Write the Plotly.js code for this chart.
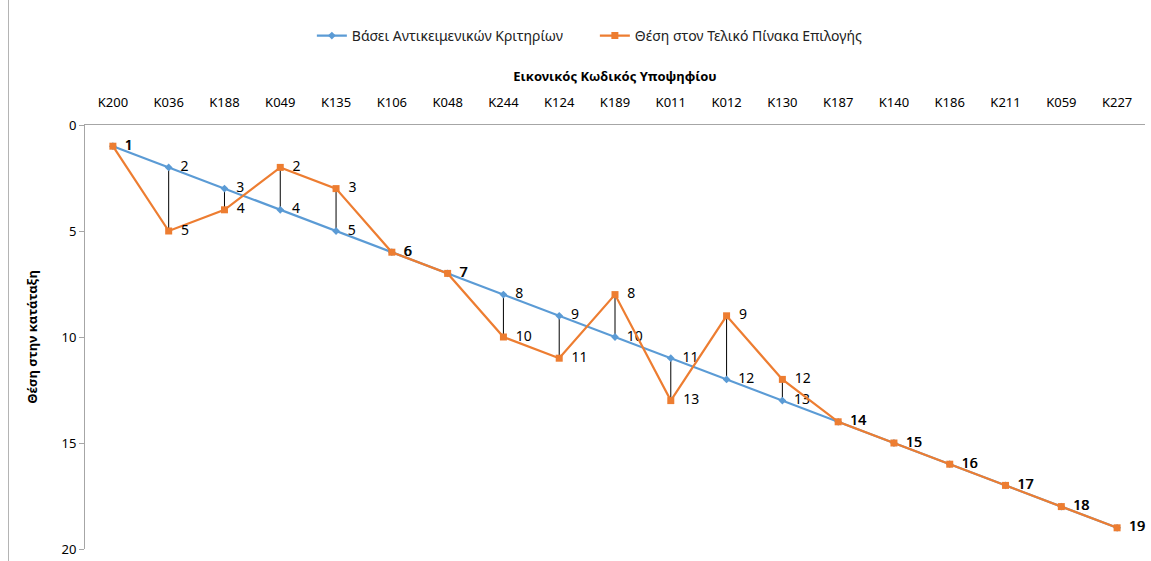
<!DOCTYPE html>
<html>
<head>
<meta charset="utf-8">
<script src="https://cdn.plot.ly/plotly-3.0.1.min.js"></script>
<style>
html,body{margin:0;padding:0;background:#fff;}
#wrap{position:relative;width:1151px;height:561px;}
#chart{width:1151px;height:561px;}
#frame{position:absolute;left:8px;top:0;width:1px;height:561px;background:#b4b4b4;z-index:5;pointer-events:none;}
</style>
</head>
<body>
<div id="wrap"><div id="chart"></div><div id="frame"></div></div>
<script>
const categories = ["K200","K036","K188","K049","K135","K106","K048","K244","K124","K189","K011","K012","K130","K187","K140","K186","K211","K059","K227"];
const objectiveRank = [1,2,3,4,5,6,7,8,9,10,11,12,13,14,15,16,17,18,19];
const finalRank = [1,5,4,2,3,6,7,10,11,8,13,9,12,14,15,16,17,18,19];
const seriesNames = ["Βάσει Αντικειμενικών Κριτηρίων", "Θέση στον Τελικό Πίνακα Επιλογής"];
const yTicks = [0,5,10,15,20];

// high-low connector segments built from the two series
const hlX = [], hlY = [];
categories.forEach((c, i) => {
  if (objectiveRank[i] !== finalRank[i]) {
    hlX.push(c, c, null);
    hlY.push(objectiveRank[i], finalRank[i], null);
  }
});

const font = "Noto Sans, Open Sans, sans-serif";
const labelTpl = "\u2002%{text}";
const traces = [
  {x: hlX, y: hlY, mode: "lines", line: {color: "#000", width: 1}, showlegend: false, hoverinfo: "skip"},
  {x: categories, y: objectiveRank, name: seriesNames[0], mode: "lines+markers+text", cliponaxis: false,
   line: {color: "#5B9BD5", width: 2.25}, marker: {symbol: "diamond", size: 6, color: "#5B9BD5"},
   text: objectiveRank.map(String), texttemplate: labelTpl, textposition: "middle right",
   textfont: {family: font, size: 14, color: "#000"}},
  {x: categories, y: finalRank, name: seriesNames[1], mode: "lines+markers+text", cliponaxis: false,
   line: {color: "#ED7D31", width: 2.25}, marker: {symbol: "square", size: 7, color: "#ED7D31"},
   text: finalRank.map(String), texttemplate: labelTpl, textposition: "middle right",
   textfont: {family: font, size: 14, color: "#000"}}
];

const layout = {
  width: 1151, height: 561,
  margin: {l: 85, r: 6, t: 125, b: 12},
  paper_bgcolor: "#fff", plot_bgcolor: "#fff",
  font: {family: font, size: 13, color: "#000"},
  showlegend: true,
  legend: {orientation: "h", x: 0.481, xanchor: "center", y: 1.21, yanchor: "middle",
           yref: "paper", font: {family: font, size: 14, color: "#222"}, traceorder: "normal",
           entrywidth: 238, entrywidthmode: "pixels"},
  xaxis: {type: "category", categoryorder: "array", categoryarray: categories,
          side: "top", range: [-0.5, 18.5], showgrid: false, zeroline: false,
          showline: true, linecolor: "#a6a6a6", linewidth: 1, ticks: "", ticklabelstandoff: 12,
          tickfont: {family: font, size: 13, color: "#000"},
          title: {text: "<b>Εικονικός Κωδικός Υποψηφίου</b>", font: {family: font, size: 13, color: "#000"}, standoff: 8}},
  yaxis: {range: [20, 0], tickvals: yTicks, showgrid: false, zeroline: false,
          showline: true, linecolor: "#a6a6a6", linewidth: 1, ticks: "outside", ticklen: 5, tickcolor: "#a6a6a6",
          tickfont: {family: font, size: 13, color: "#000"},
          title: {text: "<b>Θέση στην κατάταξη</b>", font: {family: font, size: 13, color: "#000"}, standoff: 20}}
};

Plotly.newPlot("chart", traces, layout, {displayModeBar: false, staticPlot: true});
</script>
</body>
</html>
